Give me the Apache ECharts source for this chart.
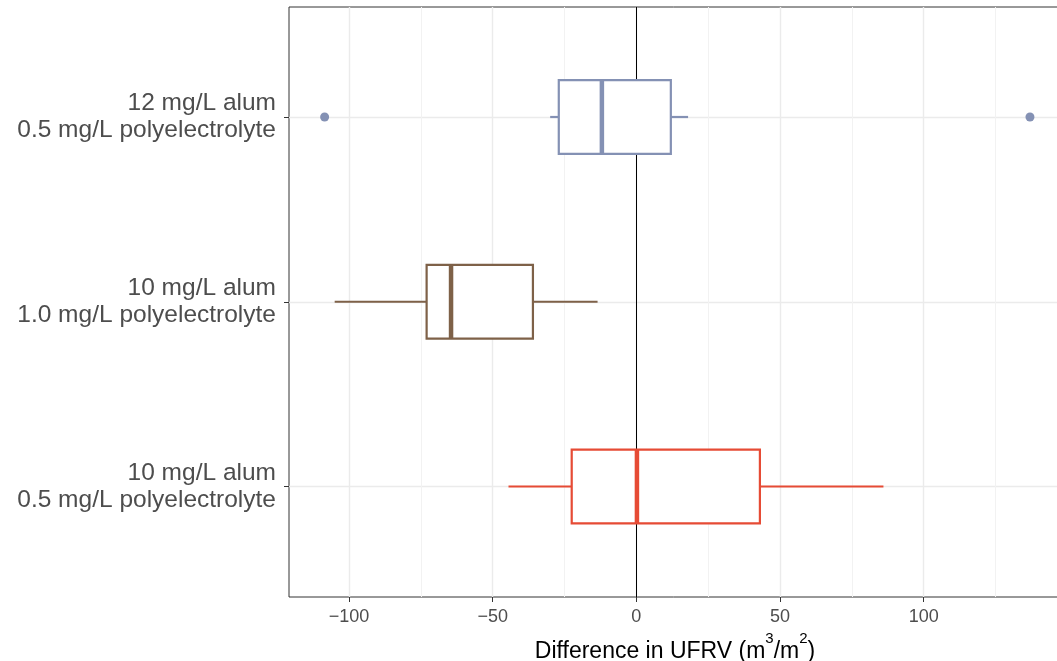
<!DOCTYPE html>
<html>
<head>
<meta charset="utf-8">
<script src="https://cdn.jsdelivr.net/npm/echarts@6/dist/echarts.min.js"></script>
<style>
  html, body { margin: 0; padding: 0; background: #ffffff; }
  #chart { width: 1057px; height: 661px; }
</style>
</head>
<body>
<div id="chart"></div>
<script>
// Treatments, top to bottom
const treatments = [
  '12 mg/L alum\n0.5 mg/L polyelectrolyte',
  '10 mg/L alum\n1.0 mg/L polyelectrolyte',
  '10 mg/L alum\n0.5 mg/L polyelectrolyte'
];
const boxColors = ['#8491B4', '#7E6148', '#E64B35'];

// Box statistics of the UFRV difference (m3/m2)
const whiskerLow  = [-30.0, -105.0, -44.5];
const lowerQuart  = [-27.0,  -73.0, -22.5];
const medians     = [-12.0,  -64.5,   0.2];
const upperQuart  = [ 12.0,  -36.0,  43.0];
const whiskerHigh = [ 18.0,  -13.5,  86.0];

// Outlying observations: [value, treatment index]
const outliers = [[-108.5, 0], [137.0, 0]];

// Axis breaks
const majorBreaks = [-100, -50, 0, 50, 100];
const minorBreaks = [-75, -25, 25, 75, 125];
const xMin = -120.9, xMax = 147.8;

const boxData = treatments.map((t, i) =>
  [i, whiskerLow[i], lowerQuart[i], medians[i], upperQuart[i], whiskerHigh[i]]);

const FONT = '"Liberation Sans", Arial, sans-serif';
const chart = echarts.init(document.getElementById('chart'), null, { renderer: 'canvas' });

function renderBox(params, api) {
  const cat = api.value(0);
  const color = boxColors[cat];
  const half = api.size([0, 1])[1] * 0.2;
  const pLow = api.coord([api.value(1), cat]);
  const pQ1 = api.coord([api.value(2), cat]);
  const pMed = api.coord([api.value(3), cat]);
  const pQ3 = api.coord([api.value(4), cat]);
  const pHigh = api.coord([api.value(5), cat]);
  const y = pMed[1];
  const lw = 2.2;
  return {
    type: 'group',
    children: [
      { type: 'line', shape: { x1: pLow[0], y1: y, x2: pQ1[0], y2: y },
        style: { stroke: color, lineWidth: lw } },
      { type: 'line', shape: { x1: pQ3[0], y1: y, x2: pHigh[0], y2: y },
        style: { stroke: color, lineWidth: lw } },
      { type: 'rect', shape: { x: pQ1[0], y: y - half, width: pQ3[0] - pQ1[0], height: 2 * half },
        style: { fill: '#ffffff', stroke: color, lineWidth: lw } },
      { type: 'line', shape: { x1: pMed[0], y1: y - half, x2: pMed[0], y2: y + half },
        style: { stroke: color, lineWidth: 4.5 } }
    ]
  };
}

const option = {
  backgroundColor: '#ffffff',
  animation: false,
  grid: [
    // panel frame with the x scale
    { left: 289, top: 7, width: 772, height: 590, show: true,
      outerBoundsMode: 'none', containLabel: false,
      borderColor: '#333333', borderWidth: 1, backgroundColor: '#ffffff' },
    // band holding the treatment rows
    { left: 289, top: 117, width: 772, height: 369.5,
      outerBoundsMode: 'none', containLabel: false }
  ],
  xAxis: [
    { type: 'value', gridIndex: 0, min: xMin, max: xMax,
      axisLine: { show: false, onZero: false },
      axisTick: { show: true, length: 5, lineStyle: { color: '#333333', width: 1 },
                  customValues: majorBreaks },
      axisLabel: { show: true, customValues: majorBreaks, margin: 11,
                   fontFamily: FONT, fontSize: 18, color: '#4D4D4D',
                   formatter: v => String(v).replace('-', '\u2212') },
      splitLine: { show: true, lineStyle: { color: '#EBEBEB', width: 1.4 } },
      name: '{n|Difference in UFRV (m}{s|3}{n|/m}{s|2}{n|)}',
      nameLocation: 'middle', nameGap: 23,
      nameTextStyle: {
        rich: {
          n: { fontFamily: FONT, fontSize: 23, color: '#000000', lineHeight: 32,
               verticalAlign: 'bottom' },
          s: { fontFamily: FONT, fontSize: 15, color: '#000000', lineHeight: 15,
               verticalAlign: 'top' }
        }
      }
    },
    { type: 'value', gridIndex: 1, min: xMin, max: xMax, show: false,
      axisLine: { onZero: false }, splitLine: { show: false } }
  ],
  yAxis: [
    { type: 'value', gridIndex: 0, min: 0, max: 1, show: false,
      axisLine: { onZero: false }, splitLine: { show: false } },
    { type: 'category', gridIndex: 1, data: treatments, inverse: true, boundaryGap: false,
      z: 0,
      axisLine: { show: false, onZero: false },
      axisTick: { show: true, length: 5, lineStyle: { color: '#333333', width: 1 } },
      axisLabel: { fontFamily: FONT, fontSize: 24.5, lineHeight: 27, color: '#4D4D4D',
                   margin: 13, align: 'right', verticalAlign: 'middle', padding: [5, 0, 0, 0] },
      splitLine: { show: true, lineStyle: { color: '#EBEBEB', width: 1.4 } }
    }
  ],
  series: [
    { // minor gridlines
      type: 'line', xAxisIndex: 0, yAxisIndex: 0, data: [], z: 1,
      markLine: {
        silent: true, symbol: 'none', label: { show: false }, z: 1,
        emphasis: { disabled: true },
        data: minorBreaks.map(v => ({ xAxis: v, lineStyle: { color: '#F2F2F2', width: 1, type: 'solid' } }))
      }
    },
    { // zero reference line
      type: 'line', xAxisIndex: 0, yAxisIndex: 0, data: [], z: 2,
      markLine: {
        silent: true, symbol: 'none', label: { show: false }, z: 2,
        emphasis: { disabled: true },
        data: [{ xAxis: 0, lineStyle: { color: '#000000', width: 1, type: 'solid' } }]
      }
    },
    {
      type: 'custom', xAxisIndex: 1, yAxisIndex: 1, z: 3,
      renderItem: renderBox,
      encode: { x: [1, 2, 3, 4, 5], y: 0 },
      data: boxData
    },
    {
      type: 'scatter', xAxisIndex: 1, yAxisIndex: 1, z: 4,
      symbol: 'circle', symbolSize: 9,
      itemStyle: { color: boxColors[0], opacity: 1 },
      data: outliers
    }
  ]
};
chart.setOption(option);
</script>
</body>
</html>
